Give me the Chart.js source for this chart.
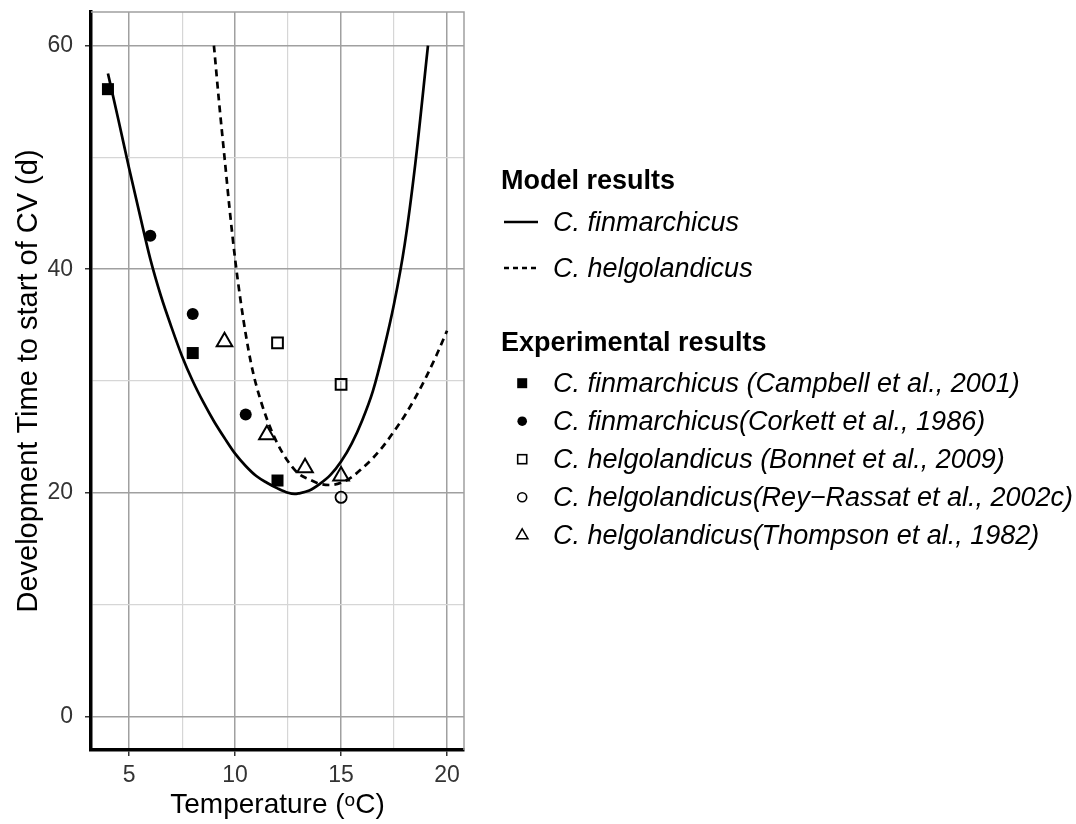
<!DOCTYPE html>
<html>
<head>
<meta charset="utf-8">
<script src="https://cdn.jsdelivr.net/npm/chart.js@4.4.1/dist/chart.umd.min.js"></script>
<style>
  html, body { margin: 0; padding: 0; background: #fff; }
  #wrap { position: relative; width: 1076px; height: 824px; font-family: "Liberation Sans", Arial, sans-serif; color: #000; }
  #chart { position: absolute; left: 0; top: 0; }
  .legend-title { position: absolute; left: 501px; font-size: 27px; font-weight: bold; line-height: 30px; white-space: nowrap; }
  .legend-row { position: absolute; left: 500px; width: 570px; height: 30px; line-height: 30px; font-size: 27px; font-style: italic; white-space: nowrap; }
  .legend-row svg { position: absolute; left: 0; top: 0; }
  .legend-row span { position: absolute; left: 53px; top: 0; }
</style>
</head>
<body>
<div id="wrap">
  <canvas id="chart" width="1076" height="824"></canvas>
  <div id="legend"></div>
</div>
<script>
// Axis ticks
const xMajorTicks = [5, 10, 15, 20];
const xMinorTicks = [7.5, 12.5, 17.5];
const yMajorTicks = [0, 20, 40, 60];
const yMinorTicks = [10, 30, 50];

// Model curves
const finCurveT = [4.0, 4.5, 5.0, 5.5, 6.0, 6.5, 7.0, 7.5, 8.0, 8.5, 9.0, 9.5, 10.0, 10.5, 11.0, 11.5, 12.0, 12.5, 12.8, 13.0, 13.5, 14.0, 14.5, 15.0, 15.5, 16.0, 16.5, 17.0, 17.5, 18.0, 18.5, 19.1];
const finCurveD = [57.5, 53.3, 49.0, 44.9, 40.9, 37.6, 34.8, 32.2, 30.0, 28.1, 26.4, 24.9, 23.5, 22.4, 21.5, 20.9, 20.4, 20.0, 19.9, 19.95, 20.2, 20.8, 21.6, 22.8, 24.4, 26.5, 29.1, 32.7, 36.9, 42.2, 49.4, 60.0];

const helCurveT = [9.0, 9.25, 9.5, 9.75, 10.0, 10.25, 10.5, 10.75, 11.0, 11.5, 12.0, 12.5, 13.0, 13.5, 14.0, 14.5, 15.0, 15.5, 16.0, 16.5, 17.0, 17.5, 18.0, 18.5, 19.0, 19.5, 20.0];
const helCurveD = [60.0, 54.8, 50.0, 45.2, 40.9, 37.3, 34.2, 31.6, 29.6, 26.6, 24.4, 22.8, 21.7, 21.2, 20.8, 20.7, 20.9, 21.4, 22.2, 23.1, 24.2, 25.5, 26.9, 28.5, 30.3, 32.3, 34.5];

// Experimental results
const campbellT = [4, 8, 12];
const campbellD = [56.1, 32.5, 21.1];
const corkettT = [6, 8, 10.5];
const corkettD = [43.0, 36.0, 27.0];
const bonnetT = [12, 15];
const bonnetD = [33.4, 29.7];
const reyT = [15];
const reyD = [19.6];
const thompsonT = [9.5, 11.5, 13.3, 15];
const thompsonD = [33.5, 25.2, 22.25, 21.5];

const modelLabels = ['C. finmarchicus', 'C. helgolandicus'];
const expLabels = [
  'C. finmarchicus (Campbell et al., 2001)',
  'C. finmarchicus(Corkett et al., 1986)',
  'C. helgolandicus (Bonnet et al., 2009)',
  'C. helgolandicus(Rey\u2212Rassat et al., 2002c)',
  'C. helgolandicus(Thompson et al., 1982)'
];

const FONT = "'Liberation Sans', Arial, sans-serif";
const toXY = (xs, ys) => xs.map((x, i) => ({ x, y: ys[i] }));
const byValue = (a, b) => a - b;

const majorGrid = '#a0a0a0';
const minorGrid = '#d6d6d6';

function pointSet(label, xs, ys, style, radius, filled, bw) {
  return {
    label,
    data: toXY(xs, ys),
    pointStyle: style,
    pointRadius: radius,
    pointBackgroundColor: filled ? '#000' : 'transparent',
    pointBorderColor: '#000',
    pointBorderWidth: bw,
    showLine: false,
    order: 0
  };
}

function curveSet(label, xs, ys, dash) {
  return {
    label,
    data: toXY(xs, ys),
    showLine: true,
    borderColor: '#000',
    borderWidth: 2.7,
    borderDash: dash,
    pointRadius: 0,
    cubicInterpolationMode: 'monotone',
    order: 1
  };
}

// top and right panel border (theme_bw style)
const panelBorder = {
  id: 'panelBorder',
  beforeDatasetsDraw(chart) {
    const { ctx, chartArea: a } = chart;
    ctx.save();
    ctx.strokeStyle = majorGrid;
    ctx.lineWidth = 1.5;
    ctx.beginPath();
    ctx.moveTo(a.left, a.top);
    ctx.lineTo(a.right, a.top);
    ctx.lineTo(a.right, a.bottom);
    ctx.stroke();
    ctx.restore();
  }
};

function axisGrid(majors) {
  return {
    color: c => majors.includes(c.tick.value) ? majorGrid : minorGrid,
    lineWidth: c => majors.includes(c.tick.value) ? 1.5 : 1.2,
    tickColor: c => majors.includes(c.tick.value) ? '#333' : 'transparent',
    tickLength: 6,
    tickWidth: 1.5
  };
}

new Chart(document.getElementById('chart'), {
  type: 'scatter',
  data: {
    datasets: [
      pointSet(expLabels[0], campbellT, campbellD, 'rect', 8.5, true, 0),
      pointSet(expLabels[1], corkettT, corkettD, 'circle', 6, true, 0),
      pointSet(expLabels[2], bonnetT, bonnetD, 'rect', 7.6, false, 2),
      pointSet(expLabels[3], reyT, reyD, 'circle', 5.6, false, 1.8),
      pointSet(expLabels[4], thompsonT, thompsonD, 'triangle', 9, false, 2),
      curveSet(modelLabels[0], finCurveT, finCurveD, []),
      curveSet(modelLabels[1], helCurveT, helCurveD, [7, 5])
    ]
  },
  options: {
    responsive: false,
    animation: false,
    devicePixelRatio: 1,
    layout: { padding: { left: 0, top: 12, right: 612, bottom: 0 } },
    plugins: {
      legend: { display: false },
      tooltip: { enabled: false }
    },
    scales: {
      x: {
        type: 'linear',
        min: 3.2,
        max: 20.8,
        afterBuildTicks: ax => { ax.ticks = xMajorTicks.concat(xMinorTicks).sort(byValue).map(v => ({ value: v })); },
        afterFit: ax => { ax.height = 74; ax.paddingLeft = 0; ax.paddingRight = 0; },
        grid: axisGrid(xMajorTicks),
        border: { color: '#000', width: 3.5 },
        ticks: {
          autoSkip: false,
          maxRotation: 0,
          padding: 6,
          color: '#333',
          font: { family: FONT, size: 23 },
          callback: v => xMajorTicks.includes(v) ? String(v) : ''
        },
        title: {
          display: true,
          text: 'Temperature (\u1D52C)',
          color: '#000',
          font: { family: FONT, size: 28 },
          padding: { top: 2, bottom: 2 }
        }
      },
      y: {
        type: 'linear',
        min: -3,
        max: 63,
        afterBuildTicks: ax => { ax.ticks = yMajorTicks.concat(yMinorTicks).sort(byValue).map(v => ({ value: v })); },
        afterFit: ax => { ax.width = 91; ax.paddingTop = 0; ax.paddingBottom = 0; },
        grid: axisGrid(yMajorTicks),
        border: { color: '#000', width: 3.5 },
        ticks: {
          autoSkip: false,
          padding: 12,
          color: '#333',
          font: { family: FONT, size: 23 },
          callback: v => yMajorTicks.includes(v) ? String(v) : ''
        },
        title: {
          display: true,
          text: 'Development Time to start of CV (d)',
          color: '#000',
          font: { family: FONT, size: 29 },
          padding: { top: 12, bottom: 12 }
        }
      }
    }
  },
  plugins: [panelBorder]
});

// Legend (two groups, drawn as html)
const legend = document.getElementById('legend');
const svgNS = 'http://www.w3.org/2000/svg';

function addTitle(text, cy) {
  const d = document.createElement('div');
  d.className = 'legend-title';
  d.style.top = (cy - 15) + 'px';
  d.textContent = text;
  legend.appendChild(d);
}

function addRow(text, cy, keyMarkup) {
  const d = document.createElement('div');
  d.className = 'legend-row';
  d.style.top = (cy - 15) + 'px';
  d.innerHTML = '<svg xmlns="' + svgNS + '" width="44" height="30">' + keyMarkup + '</svg>';
  const s = document.createElement('span');
  s.textContent = text;
  d.appendChild(s);
  legend.appendChild(d);
}

const keyLine = dash => '<line x1="4" y1="15" x2="38" y2="15" stroke="#000" stroke-width="2.4"' + (dash ? ' stroke-dasharray="' + dash + '"' : '') + '/>';
const keyMarks = [
  '<rect x="17.2" y="10.2" width="10" height="10" fill="#000"/>',
  '<circle cx="22.2" cy="15.2" r="4.8" fill="#000"/>',
  '<rect x="17.7" y="10.7" width="9" height="9" fill="none" stroke="#000" stroke-width="1.6"/>',
  '<circle cx="22.2" cy="15.2" r="4.5" fill="none" stroke="#000" stroke-width="1.6"/>',
  '<polygon points="22.2,8.8 28,18.8 16.4,18.8" fill="none" stroke="#000" stroke-width="1.5"/>'
];

addTitle('Model results', 180);
addRow(modelLabels[0], 222, keyLine(null));
addRow(modelLabels[1], 268, keyLine('5 4'));
addTitle('Experimental results', 342);
const expRowsY = [383, 421, 459, 497, 535];
expLabels.forEach((t, i) => addRow(t, expRowsY[i], keyMarks[i]));
</script>
</body>
</html>
